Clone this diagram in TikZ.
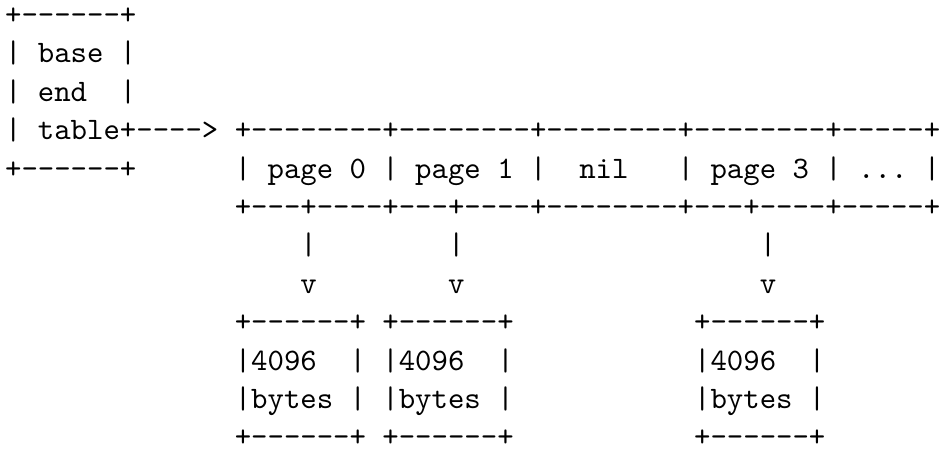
\documentclass[tikz,border=0pt]{standalone}
\begin{document}
\begin{tikzpicture}[x=0.32pt,y=0.32pt,
  asciiline/.style={anchor=base west,inner sep=0pt,outer sep=0pt,font=\fontsize{10}{12}\selectfont\ttfamily,text=black}]
\useasboundingbox[fill=white] (0,0) rectangle (940,-451);
\def\rowgap{38.4}
\def\rowtop{24.6}
\node[asciiline] (r1)  at (5.1,-\rowtop-0*\rowgap) {+------+};
\node[asciiline] (r2)  at (5.1,-\rowtop-1*\rowgap) {|\ base\ |};
\node[asciiline] (r3)  at (5.1,-\rowtop-2*\rowgap) {|\ end\ \ |};
\node[asciiline] (r4)  at (5.1,-\rowtop-3*\rowgap) {|\ table+---->\ +--------+--------+--------+--------+-----+};
\node[asciiline] (r5)  at (5.1,-\rowtop-4*\rowgap) {+------+\ \ \ \ \ \ |\ page\ 0\ |\ page\ 1\ |\ \ nil\ \ \ |\ page\ 3\ |\ ...\ |};
\node[asciiline] (r6)  at (5.1,-\rowtop-5*\rowgap) {\ \ \ \ \ \ \ \ \ \ \ \ \ \ +---+----+---+----+--------+---+----+-----+};
\node[asciiline] (r7)  at (5.1,-\rowtop-6*\rowgap) {\ \ \ \ \ \ \ \ \ \ \ \ \ \ \ \ \ \ |\ \ \ \ \ \ \ \ |\ \ \ \ \ \ \ \ \ \ \ \ \ \ \ \ \ \ |};
\node[asciiline] (r8)  at (5.1,-\rowtop-7*\rowgap) {\ \ \ \ \ \ \ \ \ \ \ \ \ \ \ \ \ \ v\ \ \ \ \ \ \ \ v\ \ \ \ \ \ \ \ \ \ \ \ \ \ \ \ \ \ v};
\node[asciiline] (r9)  at (5.1,-\rowtop-8*\rowgap) {\ \ \ \ \ \ \ \ \ \ \ \ \ \ +------+\ +------+\ \ \ \ \ \ \ \ \ \ \ +------+};
\node[asciiline] (r10) at (5.1,-\rowtop-9*\rowgap) {\ \ \ \ \ \ \ \ \ \ \ \ \ \ |4096\ \ |\ |4096\ \ |\ \ \ \ \ \ \ \ \ \ \ |4096\ \ |};
\node[asciiline] (r11) at (5.1,-\rowtop-10*\rowgap) {\ \ \ \ \ \ \ \ \ \ \ \ \ \ |bytes\ |\ |bytes\ |\ \ \ \ \ \ \ \ \ \ \ |bytes\ |};
\node[asciiline] (r12) at (5.1,-\rowtop-11*\rowgap) {\ \ \ \ \ \ \ \ \ \ \ \ \ \ +------+\ +------+\ \ \ \ \ \ \ \ \ \ \ +------+};
\end{tikzpicture}
\end{document}
